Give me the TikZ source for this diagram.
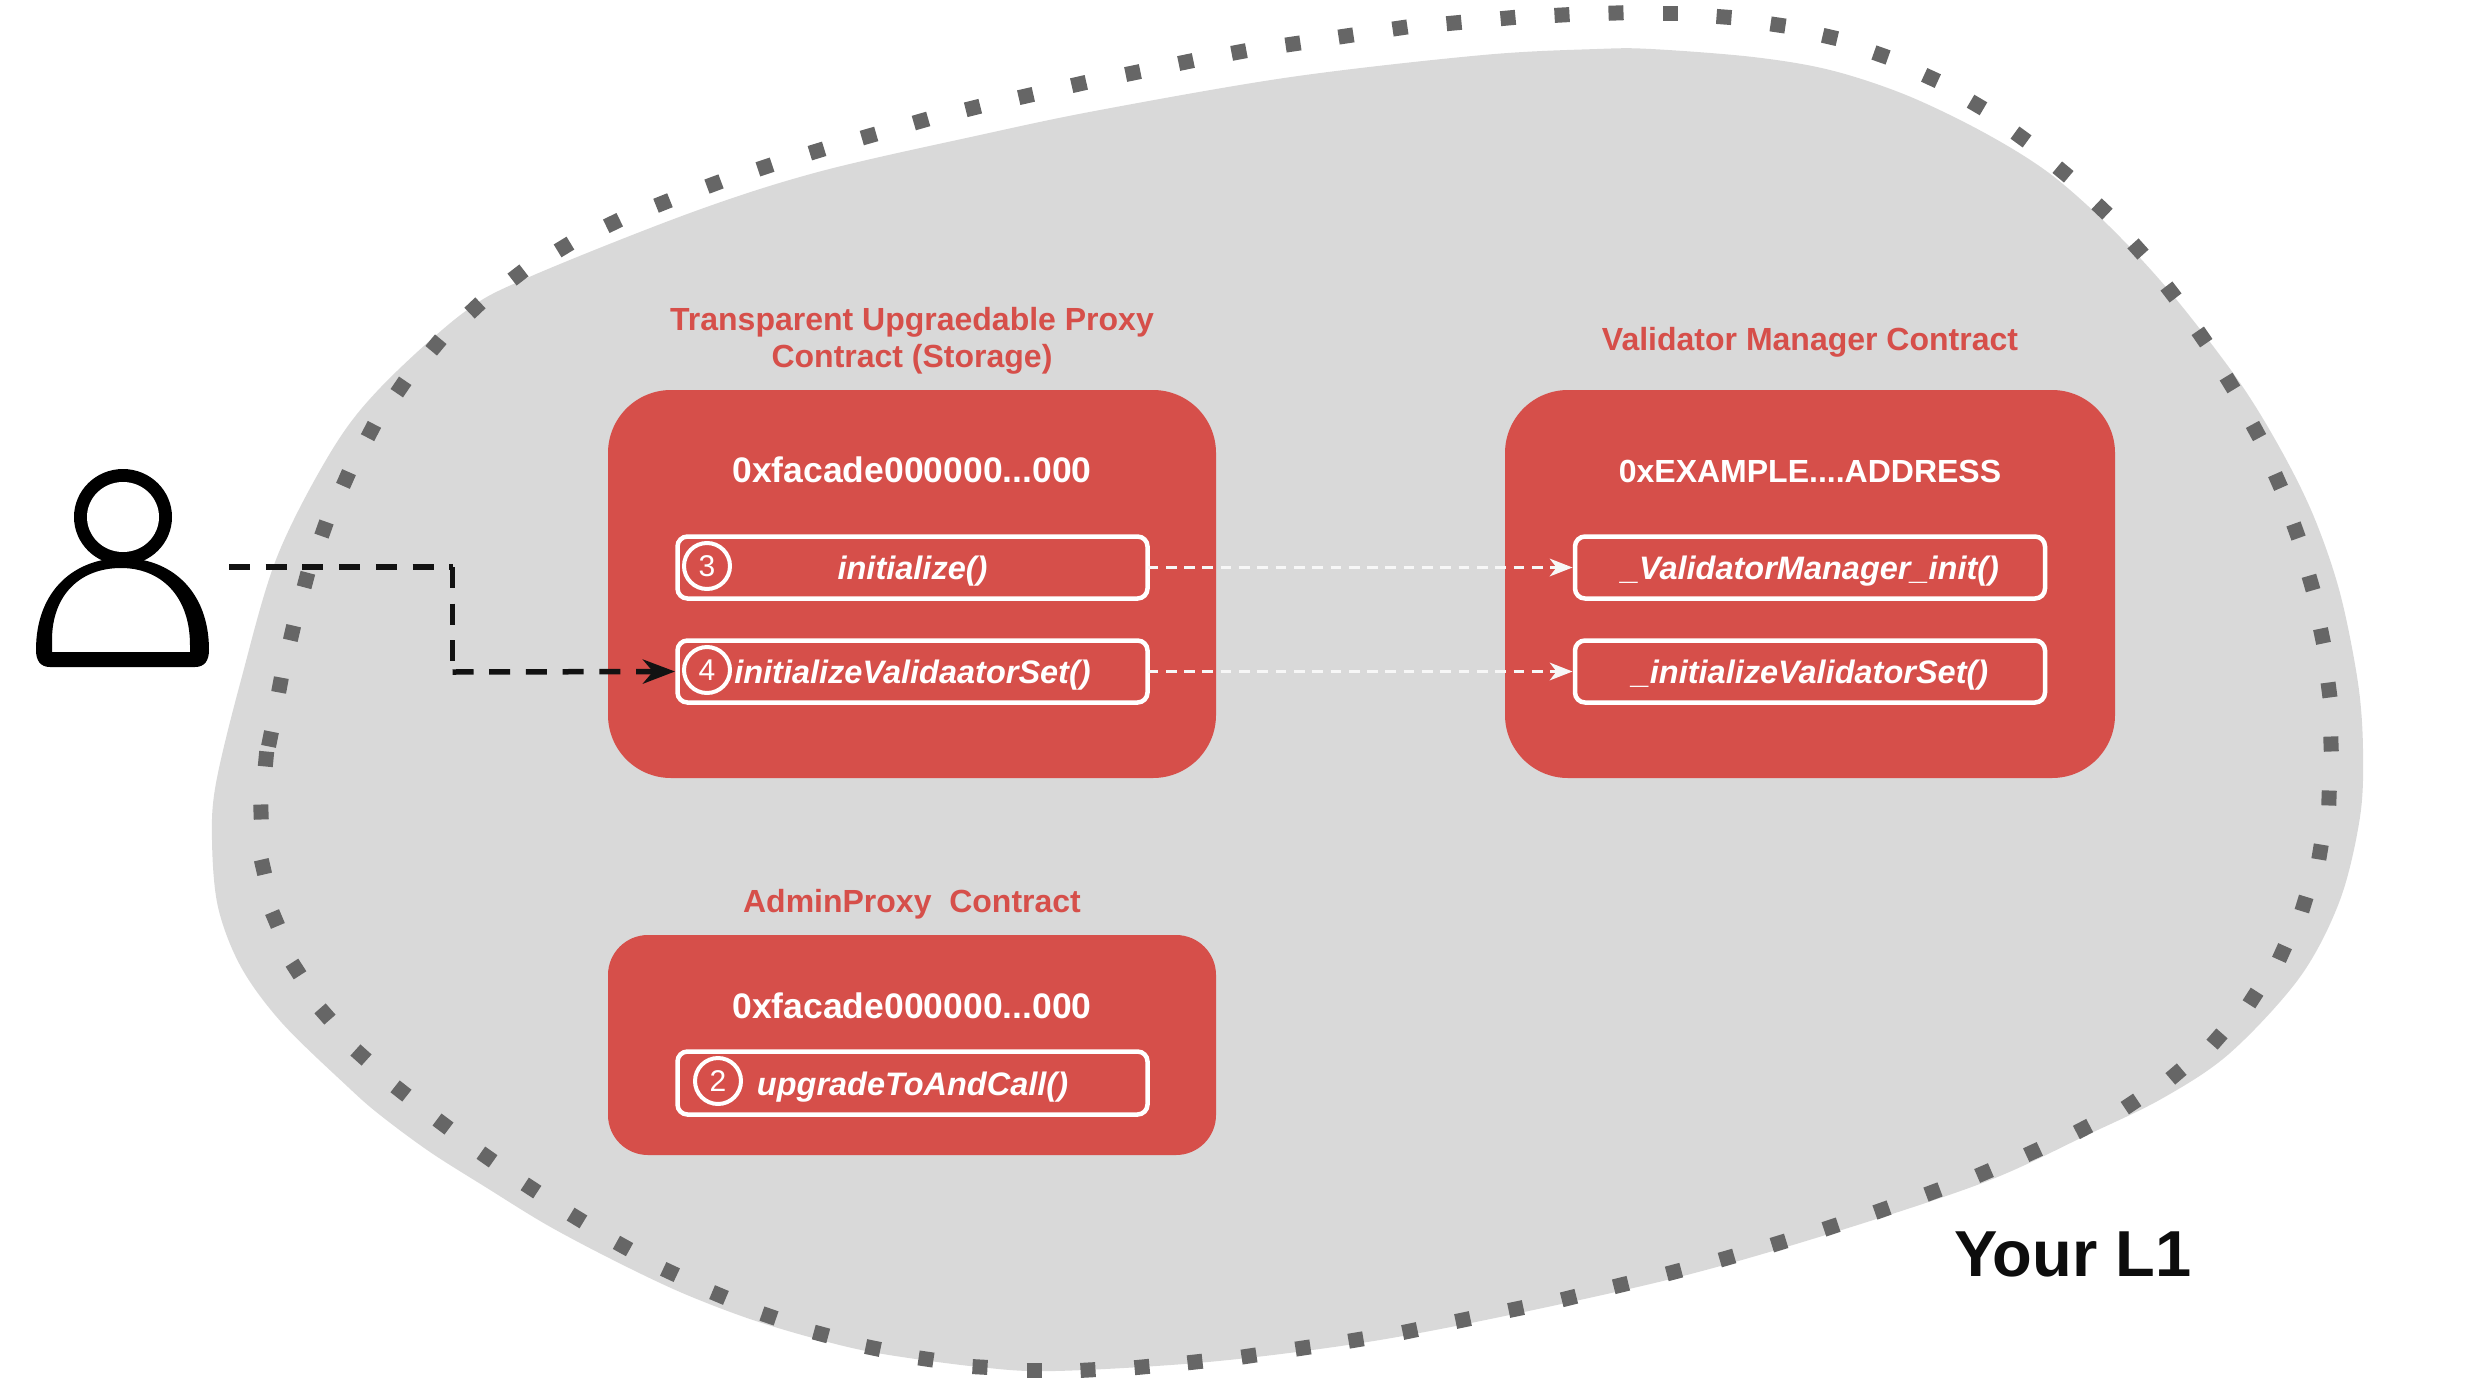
\documentclass[tikz,border=0pt]{standalone}
\usepackage{fontspec}
\setmainfont{Liberation Sans}
\usetikzlibrary{arrows.meta,calc}
\definecolor{redbox}{HTML}{D64F4A}
\definecolor{blobgray}{HTML}{D9D9D9}
\definecolor{dotgray}{HTML}{666666}
\tikzset{
  panel/.style={draw=none,fill=redbox,rounded corners=63pt,inner sep=0pt,outer sep=0pt},
  fnbox/.style={draw=white,line width=4.5pt,rounded corners=10pt,minimum width=470pt,minimum height=62pt,inner sep=0pt,outer sep=0pt,text=white,text height=24.5pt,text depth=0pt,font=\fontsize{32.5}{38}\selectfont\bfseries\itshape},
  numc/.style={circle,draw=white,line width=4pt,minimum size=46pt,inner sep=0pt,text=white,font=\fontsize{30}{36}\selectfont},
  addr/.style={text=white,inner sep=0pt,anchor=base,font=\fontsize{35.5}{40}\selectfont\bfseries},
  ttl/.style={text=redbox,inner sep=0pt,anchor=base,align=center,font=\fontsize{32}{37}\selectfont\bfseries},
  whitearrow/.style={draw=white!97!black,line width=3pt,dash pattern=on 10.7pt off 7.6pt,shorten >=2.5pt,-{Stealth[length=23pt,width=18pt,inset=7pt,line width=0pt,fill=white!97!black]}},
  blackline/.style={draw=black!93,line width=5.5pt,dash pattern=on 21pt off 15.7pt},
  dotmark/.style={draw=dotgray,line width=15pt}
}
\begin{document}
\begin{tikzpicture}[x=1pt,y=-1pt]
\useasboundingbox (0,0) rectangle (2490,1400);
\fill[blobgray] plot[smooth cycle,tension=0.55] coordinates {(212,840)(216,783)(241,680)(277,557)(332,450)(381,387)(463,313)(527,278)(690,213)(818,172)(980,135)(1100,110)(1291,77)(1483,55)(1597,49)(1651,49)(1753,57)(1830,70)(1906,95)(1983,132)(2049,173)(2110,227)(2171,293)(2238,380)(2281,450)(2314,517)(2340,593)(2358,683)(2363,750)(2360,817)(2340,900)(2300,977)(2230,1053)(2163,1098)(2087,1135)(1985,1182)(1832,1233)(1679,1277)(1500,1317)(1361,1343)(1208,1362)(1055,1371)(979,1367)(877,1353)(813,1338)(747,1318)(680,1292)(613,1260)(547,1225)(487,1188)(430,1152)(380,1115)(348,1087)(282,1023)(241,967)(218,907)};
\foreach \cx/\cy [remember=\cx as \px (initially 270),remember=\cy as \py (initially 739)] in {266/759,261/812,263/867,275/919,296/969,325/1014,361/1055,401/1091,443/1124,487/1157,531/1188,577/1218,623/1246,670/1272,719/1295,769/1316,821/1334,873/1348,926/1359,980/1367,1034/1370,1088/1370,1142/1367,1195/1362,1249/1356,1303/1348,1356/1340,1410/1331,1463/1320,1516/1309,1569/1298,1621/1285,1674/1272,1727/1258,1779/1243,1831/1227,1882/1210,1933/1192,1984/1173,2033/1152,2083/1129,2131/1104,2176/1074,2217/1039,2253/998,2282/953,2304/904,2320/852,2329/798,2331/744,2329/690,2322/636,2311/583,2296/531,2278/481,2256/431,2230/383,2202/337,2171/292,2138/249,2102/209,2063/172,2021/137,1977/105,1931/78,1881/55,1830/37,1778/25,1724/17,1670/13,1616/13,1562/15,1508/18,1454/23,1400/28,1346/36,1293/44,1239/52,1186/62,1133/73,1079/84,1026/96,973/108,921/121,869/136,817/151,765/167,714/184,663/203,613/223,564/247,518/275,475/308,436/345,401/387,371/431,346/479,324/529,306/580,292/633,280/685,270/739}
  \draw[dotmark] ($(\px,\py)!-7.5pt!(\cx,\cy)$) -- ($(\px,\py)!7.5pt!(\cx,\cy)$);
% person
\fill[black] (123,517) ellipse [x radius=49,y radius=48];
\fill[white] (123,517) ellipse [x radius=36,y radius=35];
\fill[black,even odd rule] (36,650) .. controls (36,590) and (75,558) .. (123,558) .. controls (170,558) and (209,590) .. (209,650) .. controls (209,660) and (205,667) .. (195,667) -- (50,667) .. controls (40,667) and (36,660) .. (36,650) -- cycle
 (52,652) -- (52,640) .. controls (52,595) and (80,568) .. (121,568) .. controls (160,568) and (190,595) .. (190,645) -- (190,652) -- cycle;
\coordinate (userout) at (229,567);
\coordinate (bendA) at (452.5,567);
\coordinate (bendB) at (452.5,672);
% panels
\node[panel,minimum width=608pt,minimum height=388pt] (proxy) at (912,584) {};
\node[panel,minimum width=610pt,minimum height=388pt] (vm) at (1810,584) {};
\node[panel,rounded corners=40pt,minimum width=608pt,minimum height=220pt] (admin) at (912,1045) {};
\node[ttl] (proxyttl) at (912,367) {Transparent Upgraedable Proxy\\Contract (Storage)};
\node[ttl] (vmttl) at (1810,350) {Validator Manager Contract};
\node[ttl] (adminttl) at (912,912) {AdminProxy\ \ Contract};
\node[addr] (proxyaddr) at (912,482) {0xfacade000000...000};
\node[addr,font=\fontsize{32}{40}\selectfont\bfseries] (vmaddr) at (1810,482) {0xEXAMPLE....ADDRESS};
\node[addr] (adminaddr) at (912,1018.5) {0xfacade000000...000};
\node[fnbox] (init) at (912.5,567.5) {initialize()};
\node[fnbox] (initset) at (912.5,671.5) {initializeValidaatorSet()};
\node[fnbox] (vminit) at (1810,567.5) {\_ValidatorManager\_init()};
\node[fnbox] (vmset) at (1810,671.5) {\_initializeValidatorSet()};
\node[fnbox,minimum height=63pt] (upg) at (912.5,1083) {upgradeToAndCall()};
\node[numc] (n3) at (707,566) {3};
\node[numc] (n4) at (707,670) {4};
\node[numc] (n2) at (718,1081) {2};
% connectors
\draw[blackline] (userout) -- (bendA);
\draw[blackline] (bendA) -- (bendB);
\draw[blackline,shorten >=2.5pt,-{Stealth[length=32pt,width=24pt,inset=10pt]}] (bendB) -- (initset.west);
\draw[whitearrow] (init.east) -- (vminit.west);
\draw[whitearrow] (initset.east) -- (vmset.west);
% label
\node[inner sep=0pt,anchor=base,text=black!95,font=\fontsize{65}{80}\selectfont\bfseries] (yl1) at (2073,1276) {Your L1};
\end{tikzpicture}
\end{document}
